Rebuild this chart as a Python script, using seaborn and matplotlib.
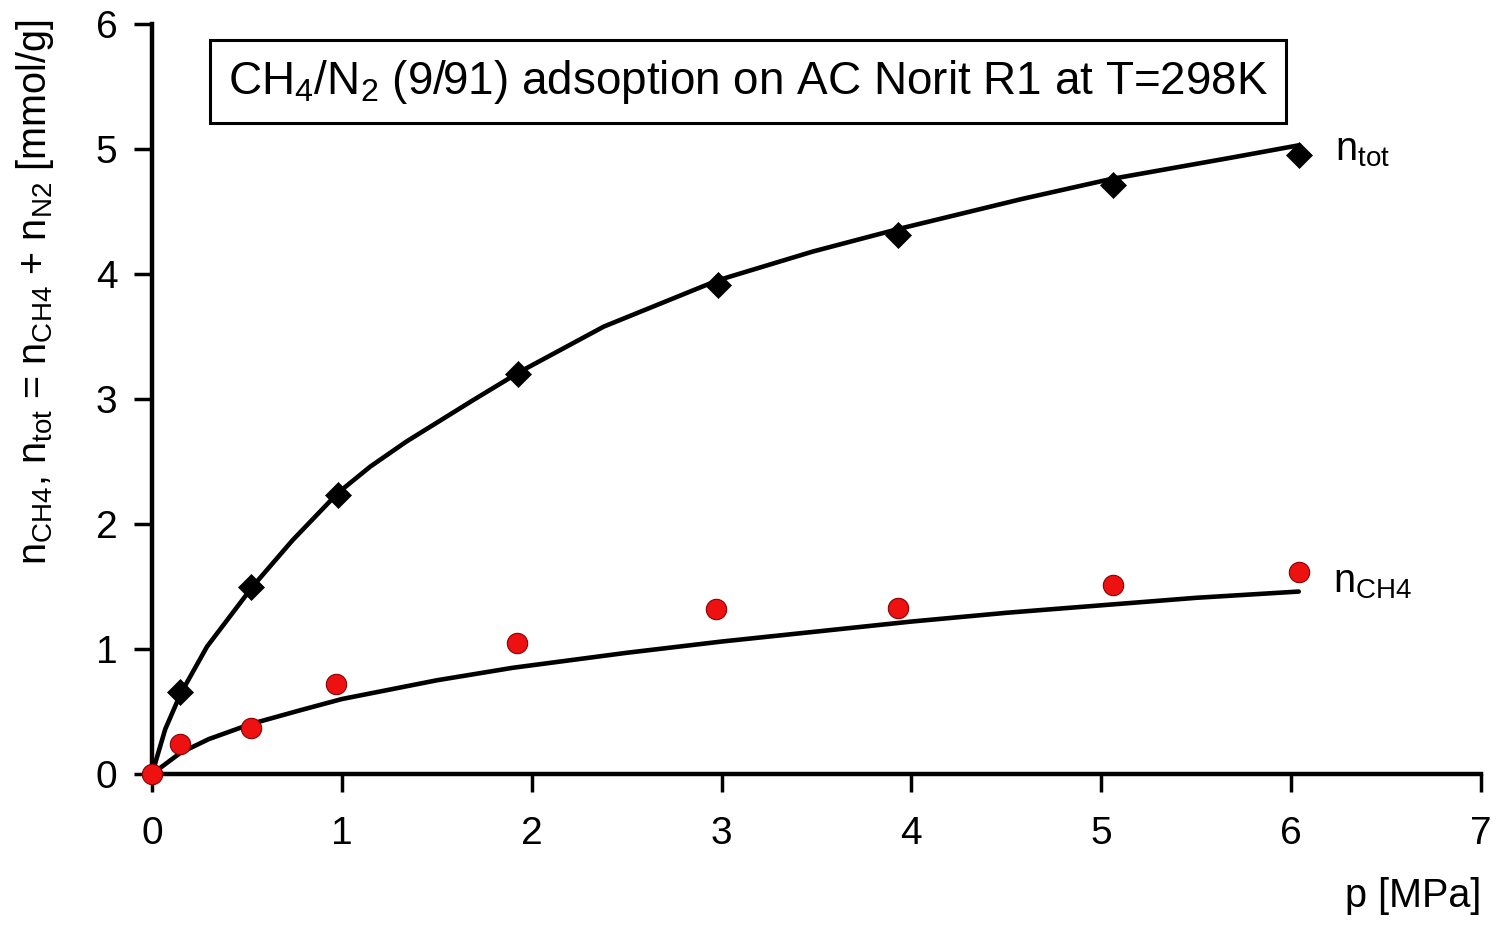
import matplotlib
matplotlib.use("Agg")
import matplotlib.pyplot as plt
import seaborn as sns

# measured points
p_tot = [0.0, 0.15, 0.52, 0.98, 1.93, 2.98, 3.93, 5.06, 6.04]
n_tot = [0.0, 0.66, 1.50, 2.23, 3.20, 3.91, 4.31, 4.71, 4.95]
p_ch4 = [0.0, 0.15, 0.52, 0.97, 1.92, 2.97, 3.93, 5.06, 6.04]
n_ch4 = [0.0, 0.24, 0.37, 0.72, 1.05, 1.32, 1.33, 1.51, 1.62]

# model curves
fit_p_tot = [0.0, 0.07, 0.15, 0.29, 0.53, 0.74, 0.98, 1.15, 1.34, 1.69, 1.94,
             2.38, 2.98, 3.48, 3.93, 4.58, 5.05, 5.68, 6.04]
fit_n_tot = [0.0, 0.36, 0.64, 1.02, 1.50, 1.87, 2.25, 2.46, 2.66, 2.99, 3.22,
             3.58, 3.95, 4.18, 4.36, 4.60, 4.76, 4.93, 5.03]
fit_p_ch4 = [0.0, 0.15, 0.30, 0.52, 0.78, 1.0, 1.5, 1.9, 2.5, 3.0, 3.5, 4.0,
             4.5, 5.0, 5.5, 6.04]
fit_n_ch4 = [0.0, 0.17, 0.28, 0.40, 0.51, 0.60, 0.75, 0.85, 0.97, 1.06, 1.14,
             1.22, 1.29, 1.35, 1.41, 1.46]

sns.set_style("ticks")
plt.rcParams['font.family'] = ['Liberation Sans', 'DejaVu Sans']
plt.rcParams['mathtext.fontset'] = 'custom'
plt.rcParams['mathtext.rm'] = 'Liberation Sans'
plt.rcParams['mathtext.default'] = 'regular'
plt.rcParams['text.color'] = 'black'
plt.rcParams['axes.labelcolor'] = 'black'
plt.rcParams['axes.edgecolor'] = 'black'

fig = plt.figure(figsize=(14.99, 9.26), dpi=100)
ax = fig.add_axes([0.1014, 0.1641, 0.8866, 0.8099])

sns.lineplot(x=fit_p_tot, y=fit_n_tot, sort=False, estimator=None, color='black', lw=3.3, ax=ax)
sns.lineplot(x=fit_p_ch4, y=fit_n_ch4, sort=False, estimator=None, color='black', lw=3.3, ax=ax)
sns.scatterplot(x=p_tot, y=n_tot, marker='D', s=175, color='black', edgecolor='black',
                linewidth=0.5, zorder=3, ax=ax)
sns.scatterplot(x=p_ch4, y=n_ch4, marker='o', s=215, color='#ee1111', edgecolor='#8a0000',
                linewidth=0.8, zorder=4, ax=ax, clip_on=False)

ax.set_xlim(0, 7)
ax.set_ylim(0, 6)
ax.set_xticks(range(0, 8))
ax.set_yticks(range(0, 7))
for s in ['top', 'right']:
    ax.spines[s].set_visible(False)
for s in ['left', 'bottom']:
    ax.spines[s].set_linewidth(3.2)
ax.tick_params(direction='out', length=13, width=2.5, labelsize=28, colors='black')
ax.tick_params(axis='y', pad=12)
ax.tick_params(axis='x', pad=17)

ax.set_xlabel('p [MPa]', fontsize=28.5, ha='right')
ax.xaxis.set_label_coords(1.0, -0.137)
ax.set_ylabel('n$_{CH4}$, n$_{tot}$ = n$_{CH4}$ + n$_{N2}$ [mmol/g]', fontsize=28.5)
ax.yaxis.set_label_coords(-0.072, 0.642)

ax.text(3.14, 5.54, 'CH$_4$/N$_2$ (9/91) adsoption on AC Norit R1 at T=298K', fontsize=33,
        ha='center', va='center',
        bbox=dict(boxstyle='square,pad=0.38', facecolor='white', edgecolor='black', lw=2.2))
ax.text(6.23, 4.91, 'n$_{tot}$', fontsize=28.5, ha='left', va='baseline')
ax.text(6.22, 1.456, 'n$_{CH4}$', fontsize=28.5, ha='left', va='baseline')

fig.savefig('out.png', dpi=100)
